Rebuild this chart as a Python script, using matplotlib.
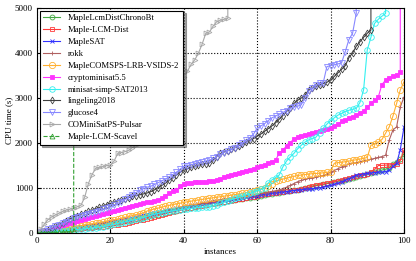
import matplotlib
matplotlib.use("Agg")
import matplotlib.pyplot as plt
import numpy as np

plt.rcParams['font.family'] = ['Liberation Serif', 'DejaVu Serif']
plt.rcParams['font.size'] = 6.5

TIMEOUT = 5000

# sorted solving times (s), index = number of solved instances
chronobt = [0,
    6, 14, 24, 34, 44, 55, 66, 76, 86, 96,
    106, 116, 126, 136, 146, 156, 168, 180, 192, 205,
    218, 232, 246, 260, 275, 290, 305, 320, 338, 356,
    374, 392, 410, 428, 446, 464, 482, 500, 518, 535,
    552, 568, 584, 600, 615, 630, 645, 660, 673, 686,
    699, 712, 724, 736, 748, 760, 772, 785, 798, 812,
    828, 845, 860, 875, 888, 900, 912, 925, 938, 952,
    966, 982, 998, 1015, 1032, 1050, 1066, 1082, 1098, 1115,
    1132, 1150, 1168, 1186, 1205, 1225, 1245, 1265, 1285, 1305,
    1330, 1350, 1375, 1400, 1420, 1445, 1530, 1590, 1640, 1760]
lcm_dist = [0,
    5, 12, 20, 28, 35, 45, 55, 62, 70, 80,
    88, 95, 102, 110, 118, 125, 133, 142, 150, 160,
    172, 185, 198, 212, 228, 245, 262, 280, 300, 320,
    345, 368, 390, 412, 432, 452, 472, 492, 512, 532,
    548, 565, 580, 596, 612, 628, 642, 656, 670, 685,
    698, 710, 722, 735, 750, 765, 780, 795, 810, 828,
    848, 860, 872, 884, 895, 905, 915, 928, 940, 955,
    965, 980, 1000, 1020, 1040, 1060, 1075, 1090, 1105, 1120,
    1140, 1160, 1180, 1200, 1220, 1240, 1260, 1280, 1300, 1320,
    1360, 1420, 1500, 1505, 1510, 1515, 1520, 1525, 1610, 1840]
maplesat = [0,
    8, 18, 30, 42, 55, 68, 80, 92, 104, 116,
    128, 140, 152, 165, 178, 190, 203, 216, 230, 245,
    260, 275, 290, 305, 322, 340, 358, 378, 398, 418,
    436, 454, 470, 486, 502, 518, 534, 550, 566, 582,
    598, 612, 626, 640, 654, 668, 684, 696, 708, 720,
    730, 740, 750, 760, 772, 784, 796, 808, 820, 834,
    848, 860, 872, 882, 892, 902, 912, 922, 934, 946,
    955, 962, 970, 978, 986, 995, 1005, 1020, 1040, 1060,
    1085, 1110, 1140, 1170, 1210, 1250, 1285, 1300, 1315, 1325,
    1335, 1345, 1352, 1358, 1365, 1400, 1480, 1550, 1850, 2350]
rokk = [0,
    7, 16, 27, 38, 50, 62, 74, 86, 98, 110,
    122, 134, 146, 158, 170, 183, 196, 210, 225, 240,
    255, 270, 286, 302, 318, 334, 350, 368, 386, 404,
    422, 440, 458, 476, 494, 512, 530, 548, 565, 582,
    598, 614, 630, 646, 662, 678, 694, 708, 722, 736,
    750, 762, 774, 786, 798, 810, 824, 838, 852, 866,
    880, 895, 910, 925, 940, 960, 985, 1020, 1060, 1100,
    1140, 1170, 1195, 1215, 1230, 1245, 1260, 1280, 1310, 1350,
    1390, 1430, 1470, 1500, 1530, 1550, 1565, 1580, 1600, 1620,
    1640, 1660, 1680, 1700, 1730, 2070, 2290, 2360, 2800, 3020]
comsps = [0,
    10, 22, 36, 50, 64, 78, 92, 106, 120, 134,
    148, 162, 176, 190, 204, 218, 233, 248, 264, 280,
    296, 312, 330, 350, 370, 390, 410, 430, 450, 490,
    515, 535, 555, 575, 595, 615, 632, 648, 664, 680,
    695, 710, 722, 735, 748, 760, 772, 784, 796, 808,
    820, 832, 844, 856, 868, 880, 895, 910, 930, 955,
    980, 1010, 1050, 1100, 1150, 1180, 1200, 1220, 1240, 1260,
    1280, 1290, 1300, 1310, 1320, 1325, 1330, 1340, 1350, 1360,
    1550, 1565, 1575, 1585, 1600, 1615, 1630, 1645, 1660, 1680,
    1950, 1980, 2020, 2080, 2220, 2360, 2600, 2880, 3180, 3360]
cms55 = [0,
    20, 45, 70, 95, 120, 145, 170, 195, 220, 250,
    272, 294, 316, 338, 360, 383, 406, 428, 450, 473,
    495, 515, 535, 555, 575, 598, 620, 640, 660, 680,
    700, 718, 735, 780, 830, 880, 925, 955, 1040, 1100,
    1110, 1120, 1128, 1135, 1140, 1145, 1150, 1160, 1180, 1210,
    1240, 1270, 1300, 1320, 1340, 1360, 1380, 1400, 1430, 1460,
    1490, 1520, 1550, 1580, 1620, 1770, 1850, 1930, 2010, 2090,
    2130, 2160, 2180, 2200, 2220, 2240, 2260, 2290, 2310, 2330,
    2380, 2430, 2480, 2520, 2550, 2580, 2620, 2660, 2720, 2800,
    2880, 2960, 3020, 3300, 3400, 3450, 3480, 3510, 3580]
minisat = [0,
    4, 10, 16, 24, 32, 40, 48, 56, 64, 72,
    80, 88, 96, 105, 114, 123, 133, 145, 160, 178,
    196, 214, 232, 250, 268, 286, 304, 322, 345, 375,
    400, 420, 436, 452, 466, 480, 494, 508, 520, 532,
    542, 552, 560, 568, 576, 582, 588, 600, 625, 660,
    690, 720, 745, 770, 795, 820, 850, 880, 910, 940,
    970, 1000, 1110, 1180, 1230, 1290, 1470, 1600, 1690, 1770,
    1870, 1950, 2020, 2070, 2100, 2130, 2230, 2330, 2420, 2500,
    2560, 2620, 2660, 2700, 2730, 2750, 2770, 2900, 3180, 4070,
    4350, 4660, 4750, 4820, 4880]
lingeling = [0,
    20, 45, 75, 110, 150, 190, 230, 270, 315, 360,
    390, 420, 450, 480, 510, 540, 570, 600, 630, 660,
    690, 715, 740, 765, 790, 815, 835, 850, 870, 890,
    920, 960, 1010, 1060, 1110, 1170, 1230, 1290, 1350, 1400,
    1430, 1460, 1490, 1510, 1530, 1545, 1560, 1620, 1700, 1770,
    1800, 1830, 1860, 1900, 1940, 1980, 2020, 2060, 2100, 2150,
    2200, 2260, 2320, 2380, 2450, 2530, 2610, 2700, 2790, 2880,
    2950, 3000, 3060, 3180, 3220, 3260, 3290, 3320, 3350, 3400,
    3480, 3560, 3640, 3720, 3900, 4000, 4150, 4250, 4350, 4440,
    4510]
glucose = [0,
    25, 55, 90, 120, 150, 185, 220, 255, 290, 330,
    355, 380, 405, 430, 450, 475, 500, 525, 550, 580,
    620, 660, 700, 750, 800, 850, 900, 950, 990, 1020,
    1040, 1080, 1120, 1160, 1200, 1250, 1300, 1350, 1420, 1480,
    1500, 1520, 1540, 1560, 1580, 1600, 1620, 1660, 1700, 1750,
    1790, 1830, 1860, 1900, 1950, 2000, 2060, 2120, 2200, 2330,
    2380, 2430, 2500, 2560, 2600, 2640, 2680, 2720, 2780, 2800,
    2820, 2850, 3000, 3150, 3220, 3300, 3330, 3340, 3700, 3720,
    3740, 3760, 3780, 4030, 4300, 4440, 4880]
pulsar = [0,
    90, 200, 300, 360, 400, 440, 480, 511, 530, 550,
    585, 620, 800, 1100, 1300, 1440, 1460, 1480, 1500, 1510,
    1600, 1770, 1790, 1810, 1840, 1900, 1950, 2000, 2100, 2200,
    2300, 2420, 2550, 2680, 2800, 2950, 3100, 3250, 3380, 3474,
    3600, 3750, 3850, 4000, 4200, 4440, 4470, 4600, 4700, 4730,
    4750, 4770]
scavel = [0, 3, 5, 8, 10, 14, 18, 22, 27, 33, 40]

names = ['MapleLcmDistChronoBt', 'Maple-LCM-Dist', 'MapleSAT', 'rokk',
         'MapleCOMSPS-LRB-VSIDS-2', 'cryptominisat5.5', 'minisat-simp-SAT2013',
         'lingeling2018', 'glucose4', 'COMiniSatPS-Pulsar', 'Maple-LCM-Scavel']
series = [chronobt, lcm_dist, maplesat, rokk, comsps, cms55, minisat,
          lingeling, glucose, pulsar, scavel]
colors = ['#44aa44', '#ff3b3b', '#3333ff', '#b06060', '#ffb030', '#ff33ff',
          '#33f0f0', '#404040', '#8888ff', '#a8a8a8', '#33a033']
markers = ['o', 's', 'x', '+', 'o', 's', 'o', 'd', 'v', '>', '^']
msizes = [3.5, 3.5, 3.5, 3.5, 4.5, 2.2, 4, 3.5, 4, 3.5, 3.5]
styles = ['-'] * 10 + ['--']
filled = [False] * 5 + [True] + [False] * 5

fig = plt.figure(figsize=(4.16, 2.61), dpi=100)
ax = fig.add_axes([0.089, 0.107, 0.882, 0.862])

for name, t, c, m, ms, ls, f in zip(names, series, colors, markers, msizes, styles, filled):
    n = len(t) - 1
    x = list(range(len(t)))
    y = list(t)
    if n < 100:  # unsolved rest -> goes to timeout
        x.append(n)
        y.append(TIMEOUT * 1.05)
    ax.plot(x, y, ls, color=c, marker=m, markersize=ms, linewidth=0.8,
            markeredgewidth=0.6, markerfacecolor=c if f else 'none',
            markevery=slice(0, n + 1), label=name)

ax.set_xlim(0, 100)
ax.set_ylim(0, 5000)
ax.set_xticks([0, 20, 40, 60, 80, 100])
ax.set_yticks([0, 1000, 2000, 3000, 4000, 5000])
ax.grid(True, color='black', linestyle=':', linewidth=0.8)
ax.tick_params(direction='in', length=3, labelsize=6.5, pad=3)
ax.set_xlabel('instances', labelpad=2)
ax.set_ylabel('CPU time (s)', labelpad=1)

leg = ax.legend(loc='upper left', fontsize=6.2, frameon=True, fancybox=False,
                shadow=True, framealpha=1, edgecolor='black',
                labelspacing=0.45, handlelength=2.0, handletextpad=0.9,
                borderaxespad=0.3, borderpad=0.4)
leg.get_frame().set_linewidth(0.8)

fig.savefig('out.png', dpi=100)
